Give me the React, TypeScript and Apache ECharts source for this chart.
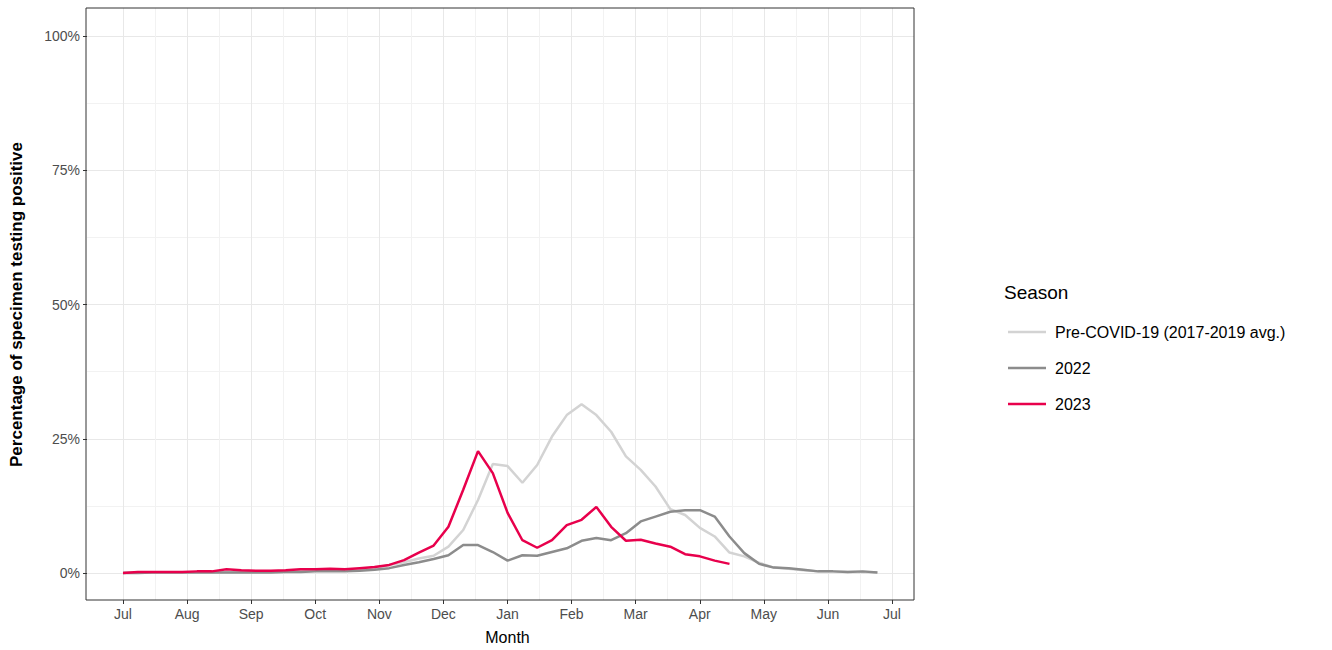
import React, { useEffect, useRef } from 'react';
import * as echarts from 'echarts';

const monthLabels = ['Jul', 'Aug', 'Sep', 'Oct', 'Nov', 'Dec', 'Jan', 'Feb', 'Mar', 'Apr', 'May', 'Jun', 'Jul'];
const seasonNames = ['Pre-COVID-19 (2017-2019 avg.)', '2022', '2023'];

// weekly values (week 0 = start of July)
const preCovid = [0.1, 0.1, 0.1, 0.1, 0.1, 0.1, 0.1, 0.2, 0.2, 0.2, 0.2, 0.3, 0.3, 0.4, 0.4, 0.5, 0.6, 0.9, 1.5, 2.0, 2.7,
  3.2, 4.9, 8.0, 13.6, 20.3, 19.9, 16.8, 20.1, 25.4, 29.4, 31.4, 29.4, 26.3, 21.7, 19.2, 16.1, 11.9, 10.8, 8.4, 6.8,
  3.8, 3.1, 1.9, 1.0, 0.8, 0.5, 0.3, 0.3, 0.2, 0.2, 0.1];
const season2022 = [0.0, 0.0, 0.1, 0.1, 0.1, 0.1, 0.1, 0.1, 0.1, 0.1, 0.1, 0.2, 0.2, 0.3, 0.3, 0.3, 0.4, 0.6, 0.9, 1.5, 2.0,
  2.6, 3.3, 5.2, 5.2, 3.9, 2.3, 3.3, 3.2, 3.9, 4.6, 6.0, 6.5, 6.1, 7.4, 9.6, 10.5, 11.4, 11.7, 11.7, 10.5,
  6.8, 3.7, 1.7, 1.0, 0.9, 0.6, 0.3, 0.3, 0.2, 0.3, 0.1];
const season2023 = [0.0, 0.2, 0.2, 0.2, 0.2, 0.3, 0.3, 0.7, 0.5, 0.4, 0.4, 0.5, 0.7, 0.7, 0.8, 0.7, 0.9,
  1.1, 1.5, 2.4, 3.8, 5.1, 8.6, 15.5, 22.7, 18.6, 11.2, 6.1, 4.7, 6.1, 8.9, 9.9, 12.3, 8.6, 6.0, 6.2, 5.5, 4.9, 3.5, 3.1, 2.3, 1.7];

const colors = ['#d3d3d3', '#8c8c8c', '#e8004c'];

const toPts = (arr: number[]) => arr.map((v, i) => [(i * 12) / 52, v]);

const App: React.FC = () => {
  const ref = useRef<HTMLDivElement | null>(null);

  useEffect(() => {
    if (!ref.current) return;
    const chart = echarts.init(ref.current, undefined, { renderer: 'svg' });
    const font = 'Liberation Sans, Arial, sans-serif';
    const tick = { show: true, length: 4, lineStyle: { color: '#333' } };
    chart.setOption({
      animation: false,
      textStyle: { fontFamily: font },
      grid: [
        { left: 86, right: 1332 - 914, top: 8, bottom: 50, show: true, borderColor: '#333', borderWidth: 1, backgroundColor: 'transparent', z: 3 },
        { left: 123, right: 1332 - 892, top: 8, bottom: 50, show: false },
        { left: 86, right: 1332 - 914, top: 36, bottom: 77, show: false },
      ],
      xAxis: [
        { gridIndex: 0, type: 'value', min: -0.577, max: 12.34, show: false },
        {
          gridIndex: 1, type: 'value', min: 0, max: 12, interval: 1,
          axisLine: { show: false },
          axisTick: tick,
          axisLabel: { formatter: (v: number) => monthLabels[Math.round(v)], color: '#4d4d4d', fontSize: 14, margin: 7 },
          splitLine: { lineStyle: { color: '#e8e8e8', width: 1 } },
          minorSplitLine: { show: true, lineStyle: { color: '#f2f2f2', width: 1 } },
          minorTick: { show: false, splitNumber: 2 },
          name: 'Month', nameLocation: 'middle', nameGap: 29,
          nameTextStyle: { fontSize: 16, color: '#000' },
        },
        { gridIndex: 2, type: 'value', min: 0, max: 1, show: false },
      ],
      yAxis: [
        { gridIndex: 0, type: 'value', min: -5.03, max: 105.2, show: false },
        { gridIndex: 1, type: 'value', min: 0, max: 1, show: false },
        {
          gridIndex: 2, type: 'value', min: 0, max: 100, interval: 25,
          axisLine: { show: false },
          axisTick: tick,
          axisLabel: { formatter: '{value}%', color: '#4d4d4d', fontSize: 14, margin: 7 },
          splitLine: { lineStyle: { color: '#e8e8e8', width: 1 } },
          minorSplitLine: { show: true, lineStyle: { color: '#f2f2f2', width: 1 } },
          minorTick: { show: false, splitNumber: 2 },
          name: 'Percentage of specimen testing positive', nameLocation: 'middle', nameGap: 62,
          nameTextStyle: { fontSize: 17, fontWeight: 'bold', color: '#000' },
        },
      ],
      legend: {
        orient: 'vertical', left: 1003, top: 319, itemWidth: 38, itemHeight: 10, itemGap: 20,
        icon: 'path://M0,0 L38,0 L38,2.5 L0,2.5 Z',
        textStyle: { fontSize: 16, color: '#000', padding: [0, 0, 0, 4] },
        data: seasonNames,
      },
      graphic: [
        { type: 'text', left: 1004, top: 283, style: { text: 'Season', fontSize: 19, fill: '#000', fontFamily: font } },
      ],
      series: [
        { name: seasonNames[0], type: 'line', data: toPts(preCovid), xAxisIndex: 0, yAxisIndex: 0, showSymbol: false, lineStyle: { width: 2.5, color: colors[0] }, itemStyle: { color: colors[0] } },
        { name: seasonNames[1], type: 'line', data: toPts(season2022), xAxisIndex: 0, yAxisIndex: 0, showSymbol: false, lineStyle: { width: 2.5, color: colors[1] }, itemStyle: { color: colors[1] } },
        { name: seasonNames[2], type: 'line', data: toPts(season2023), xAxisIndex: 0, yAxisIndex: 0, showSymbol: false, lineStyle: { width: 2.5, color: colors[2] }, itemStyle: { color: colors[2] } },
      ],
    });
    return () => chart.dispose();
  }, []);

  return <div ref={ref} style={{ position: 'absolute', left: 0, top: 0, width: 1332, height: 650 }} />;
};

export default App;
